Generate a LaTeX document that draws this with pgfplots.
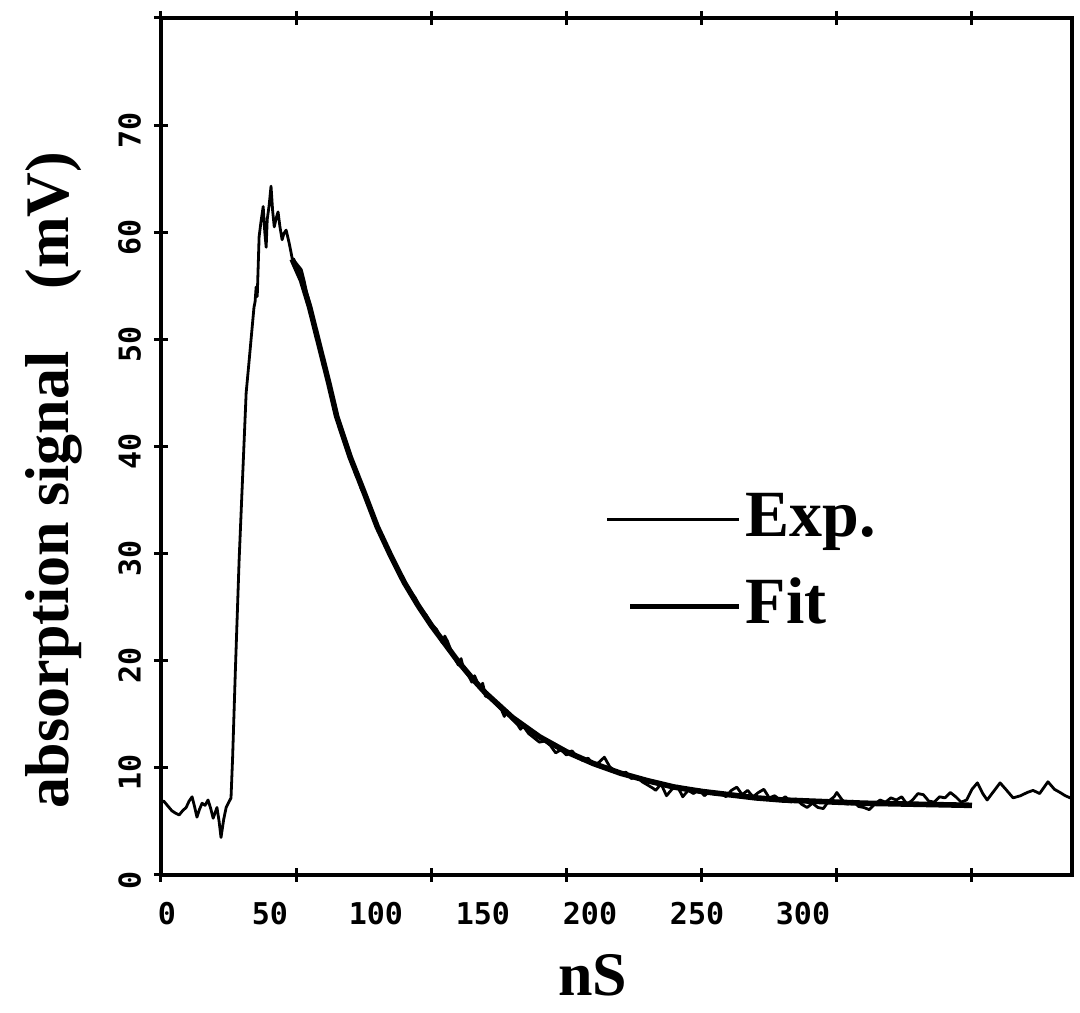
\documentclass[border=0pt]{standalone}
\usepackage{pgfplots}
\pgfplotsset{compat=1.18}
\usepackage{fontspec}
\setmainfont{Liberation Serif}
\newfontfamily\tickfont{DejaVu Sans Mono}

\pgfplotstableread{
x y
0 6.8
1 6.9
2 6.6
3 6.3
4 6.0
5.2 5.8
6.7 5.6
8 6.0
9.3 6.3
10.4 6.9
11.5 7.3
12.4 6.4
13.3 5.4
14.2 6.1
15.2 6.7
16.3 6.5
17.4 7.0
18.4 6.2
19.3 5.3
20.7 6.3
21.5 5.0
22.2 3.5
23.2 5.2
24.1 6.3
25.9 7.2
26.5 11
27.5 19
28.9 29.4
30 36
31.5 45
32.6 48
33.5 50.5
34.4 53.0
34.8 53.5
35.2 54.9
35.6 54
36.3 59.6
37.0 61
37.8 62.4
38.4 60
38.9 58.6
39.3 61.2
40.0 62.5
40.7 64.3
41.3 62.0
41.9 60.5
42.6 61.3
43.3 61.9
44.0 60.5
44.8 59.3
45.5 59.9
46.3 60.2
47.4 59.0
48.5 57.6
50 57.1
51.9 56.5
53 55.4
54 54.2
55 53.4
56 52.2
57 51.0
58 49.8
59 49.0
60 47.6
61 46.9
62 45.8
63 44.9
64 43.6
65 43.0
66 41.9
67 41.3
68 40.3
69 39.8
70 38.8
71 38.4
72 37.4
73 36.9
74 36.1
75 35.6
76 35.1
77 34.3
78 33.8
79 33.0
80 32.6
82 31.4
84 30.2
86 29.4
88 28.2
90 27.4
92 26.5
94 25.9
96 24.8
98 24.3
100 23.4
102 22.9
104 21.7
105 22.3
106 21.8
108 20.5
110 19.6
111 20.2
112 19.2
114 18.5
115 18.0
116 18.6
118 17.4
119 17.9
120 16.7
122 16.5
124 15.9
126 15.4
127 14.8
128 15.3
130 14.5
132 14.0
133 13.6
134 13.9
136 13.2
138 12.8
140 12.4
142 12.5
144 12.1
146 11.4
148 11.7
150 11.2
152 11.6
154 11.0
156 10.7
158 10.9
160 10.3
162 10.5
164 11.0
166 10.1
168 9.7
170 9.4
172 9.6
174 9.0
176 9.2
178 8.7
180 8.4
182 8.1
183 7.9
185 8.5
187 7.4
189 8.0
191 8.3
193 7.3
195 7.9
197 7.6
199 8.0
201 7.4
203 7.8
205 7.5
207 7.7
209 7.3
211 7.9
213 8.2
215 7.5
217 7.9
219 7.3
221 7.7
223 8.0
225 7.2
227 7.4
229 7.0
231 7.3
233 6.8
235 7.1
237 6.6
239 6.3
241 6.7
243 6.3
245 6.2
247 6.9
249 7.3
250 7.7
252 7.0
254 6.6
256 6.9
258 6.4
260 6.3
262 6.1
264 6.6
266 7.0
268 6.8
270 7.2
272 7.0
274 7.3
276 6.6
278 7.0
280 7.6
282 7.5
284 6.9
286 6.8
288 7.3
290 7.2
292 7.7
294 7.3
296 6.8
298 7.0
300 8.0
302 8.6
304 7.6
305.6 7.0
308 7.8
310.4 8.6
312.5 8.0
315.2 7.2
318 7.4
320.4 7.7
322.6 7.9
325 7.6
328.1 8.7
330.5 8.0
332.6 7.7
334.5 7.4
336.3 7.2
337 7.4
}\expdata

\pgfplotstableread{
x y
48.5 57.5
52 55.5
55 53
58.5 49.5
62 46
65 42.8
70 39
75 35.8
80 32.5
85 29.8
90 27.3
95 25.2
100 23.3
105 21.6
110 19.9
115 18.4
120 17.0
130 14.7
140 12.9
150 11.5
160 10.4
170 9.5
180 8.8
190 8.2
200 7.8
210 7.5
220 7.2
230 7.0
240 6.9
250 6.8
260 6.7
270 6.65
280 6.6
290 6.55
300 6.5
}\fitdata

\begin{document}
\begin{tikzpicture}
\begin{axis}[
  scale only axis,
  width=455.5pt, height=428.5pt,
  xmin=0, xmax=337, ymin=0, ymax=80,
  axis line style={line width=2pt},
  xtick={0,50,...,300},
  xticklabels={},
  extra x ticks={2.2,40.3,79.5,119.1,158.7,198.3,237.5},
  extra x tick labels={0,50,100,150,200,250,300},
  extra x tick style={major tick length=0pt, tick style={draw=none}},
  ytick={0,10,...,80},
  yticklabels={0,10,20,30,40,50,60,70,{}},
  xtick pos=both, ytick pos=left,
  tick align=center,
  major tick length=7pt,
  tick style={line width=1.5pt, black},
  /pgf/number format/assume math mode=true,
  ticklabel style={font=\tickfont\bfseries\fontsize{15}{15}\selectfont},
  xticklabel style={yshift=-10pt},
  yticklabel style={rotate=90, anchor=south, xshift=-2.5pt, yshift=3pt},
  xlabel={nS}, ylabel={absorption signal\hspace{1em}(mV)},
  label style={font=\bfseries\fontsize{31}{31}\selectfont},
  xlabel style={at={(rel axis cs:0.474,0)}, anchor=center, yshift=-50pt},
  ylabel style={at={(rel axis cs:0,0.461)}, anchor=center, yshift=53.5pt},
  legend style={draw=none, fill=none, at={(axis cs:164.3,36.1)}, anchor=north west,
    font=\bfseries\fontsize{33}{33}\selectfont, row sep=12.5pt, column sep=2pt,
    inner sep=0pt, nodes={inner sep=0pt, text height=24pt, text depth=7pt}},
  legend cell align=left,
]
\addplot[black, line width=1.4pt, line join=round,
  legend image code/.code={\draw[black, line width=1.6pt] (0pt,0pt) -- (66pt,0pt);}]
  table[x=x, y=y] {\expdata};
\addlegendentry{Exp.}
\addplot[black, line width=2.8pt, line join=round,
  legend image code/.code={\draw[black, line width=2.8pt] (11.5pt,0pt) -- (66pt,0pt);}]
  table[x=x, y=y] {\fitdata};
\addlegendentry{Fit}
\coordinate (ll) at (rel axis cs:0,0);
\coordinate (ur) at (rel axis cs:1,1);
\end{axis}
\pgfresetboundingbox
\path[use as bounding box] ([xshift=-80.5pt, yshift=-69pt]ll) rectangle ([xshift=4pt, yshift=9pt]ur);
\end{tikzpicture}
\end{document}
